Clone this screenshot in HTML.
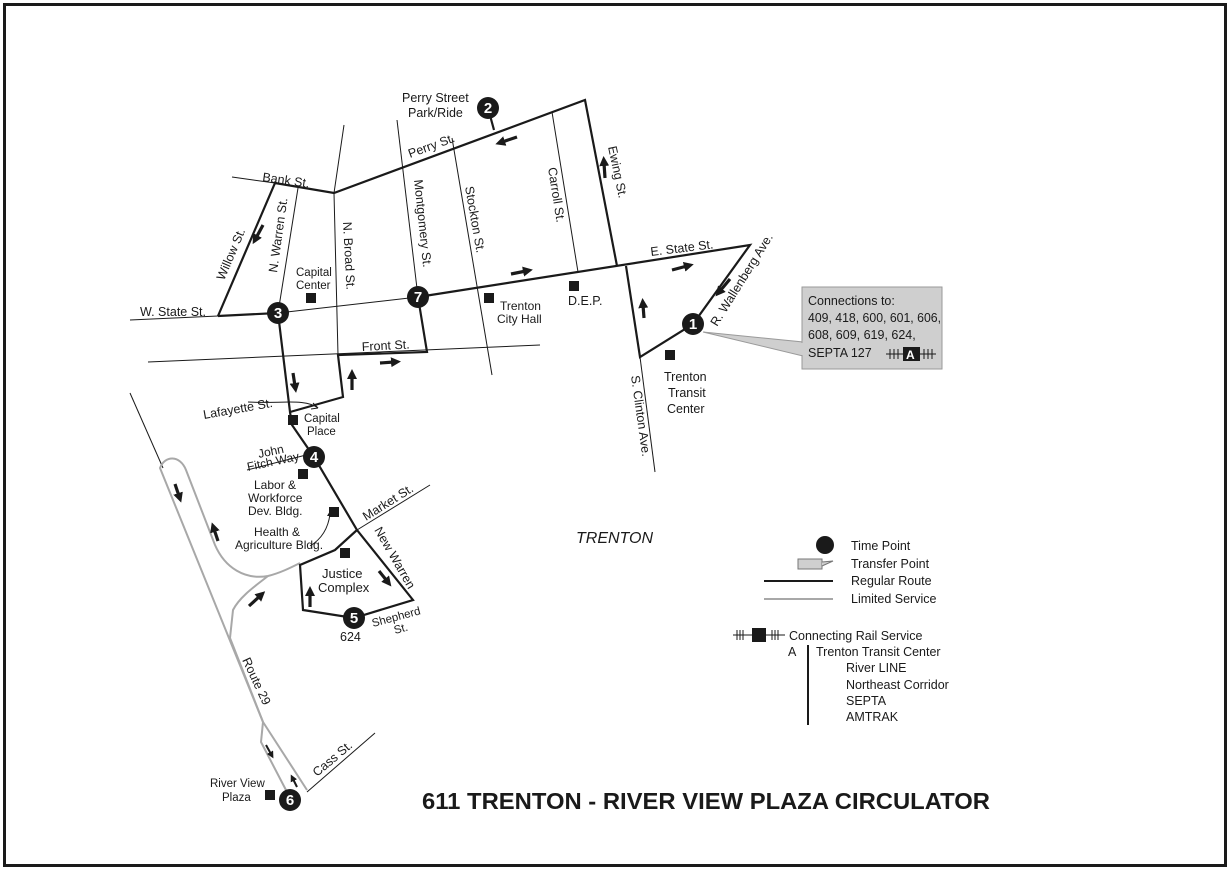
<!DOCTYPE html>
<html><head><meta charset="utf-8"><style>
html,body{margin:0;padding:0;background:#fff;}
svg{display:block;}
text{font-family:"Liberation Sans",Arial,sans-serif;fill:#1a1a1a;}
</style></head><body>
<svg width="1230" height="870" viewBox="0 0 1230 870" xmlns="http://www.w3.org/2000/svg">
<defs>
<marker id="ah" markerWidth="7" markerHeight="7" refX="2" refY="3.5" orient="auto" markerUnits="userSpaceOnUse"><path d="M0,0 L7,3.5 L0,7 Z" fill="#1a1a1a"/></marker>
<marker id="ah2" markerWidth="10" markerHeight="10" refX="3" refY="5" orient="auto" markerUnits="userSpaceOnUse"><path d="M0,0 L10,5 L0,10 Z" fill="#1a1a1a"/></marker>
</defs>
<rect x="4.5" y="4.5" width="1221" height="861" fill="#fff" stroke="#1a1a1a" stroke-width="3"/>

<g stroke="#1a1a1a" stroke-width="1" fill="none">
<line x1="232" y1="177" x2="275" y2="183"/>
<line x1="130" y1="320" x2="218" y2="316"/>
<polyline points="278,313 418,297"/>
<line x1="298" y1="188" x2="278" y2="313"/>
<polyline points="344,125 334,193 338,355"/>
<line x1="397" y1="120" x2="418" y2="297"/>
<line x1="148" y1="362" x2="540" y2="345"/>
<line x1="452" y1="138" x2="492" y2="375"/>
<line x1="552" y1="112" x2="578" y2="272"/>
<line x1="640" y1="357" x2="655" y2="472"/>
<line x1="357" y1="530" x2="430" y2="485"/>
<line x1="130" y1="393" x2="163" y2="468"/>
<line x1="307" y1="792" x2="375" y2="733"/>
<line x1="247" y1="470" x2="310" y2="454"/>
<path d="M248,402 C280,404 305,398 318,408"/>
</g>
<path d="M318,408 l-5,-5 M318,408 l-7,1" stroke="#1a1a1a" stroke-width="1"/>
<path d="M333,516 l-3,-5 l-3,5 Z" fill="#1a1a1a"/>
<path d="M330,514 C328,530 320,540 310,546" stroke="#1a1a1a" stroke-width="1" fill="none"/>

<g stroke="#a8a8a8" stroke-width="2" fill="none" stroke-linejoin="round">
<path d="M300,563 C290,568 280,573 268,576 C245,580 225,568 215,545 L186,470 C180,455 165,455 160,468 L263,722"/>
<path d="M268,576 C258,584 240,596 233,610 L230,638 L263,722"/>
<polyline points="263,722 261,742 287,792"/>
<polyline points="263,722 307,790"/>
</g>

<g stroke="#1a1a1a" stroke-width="2.2" fill="none" stroke-linejoin="miter">
<polyline points="218,316 275,183 334,193 585,100 617,266"/>
<line x1="218" y1="316" x2="278" y2="313"/>
<line x1="488" y1="108" x2="494" y2="130"/>
<polyline points="418,297 750,245 693,324 640,357 626,266"/>
<polyline points="278,313 290,412 343,397 338,355 427,352 418,297"/>
<polyline points="290,412 292,425 314,457 357,530 413,600 354,618 303,610 300,565 335,550 357,530"/>
</g>

<g stroke="#1a1a1a" stroke-width="3.2" fill="none">
<line x1="263" y1="225" x2="256" y2="238" marker-end="url(#ah2)"/>
<line x1="517" y1="137" x2="502" y2="142" marker-end="url(#ah2)"/>
<line x1="605" y1="178" x2="604" y2="163" marker-end="url(#ah2)"/>
<line x1="511" y1="274" x2="526" y2="271" marker-end="url(#ah2)"/>
<line x1="672" y1="270" x2="687" y2="266" marker-end="url(#ah2)"/>
<line x1="730" y1="279" x2="720" y2="291" marker-end="url(#ah2)"/>
<line x1="644" y1="318" x2="643" y2="305" marker-end="url(#ah2)"/>
<line x1="293" y1="373" x2="295" y2="386" marker-end="url(#ah2)"/>
<line x1="352" y1="390" x2="352" y2="376" marker-end="url(#ah2)"/>
<line x1="380" y1="363" x2="394" y2="362" marker-end="url(#ah2)"/>
<line x1="379" y1="571" x2="387" y2="581" marker-end="url(#ah2)"/>
<line x1="310" y1="607" x2="310" y2="593" marker-end="url(#ah2)"/>
<line x1="175" y1="484" x2="179" y2="496" marker-end="url(#ah2)"/>
<line x1="218" y1="541" x2="214" y2="529" marker-end="url(#ah2)"/>
<line x1="249" y1="606" x2="260" y2="596" marker-end="url(#ah2)"/>
</g>
<g stroke="#1a1a1a" stroke-width="2" fill="none">
<line x1="266" y1="745" x2="271" y2="754" marker-end="url(#ah)"/>
<line x1="297" y1="787" x2="293" y2="779" marker-end="url(#ah)"/>
</g>

<polygon points="703,332 803,342 803,356" fill="#cfcfcf" stroke="#9a9a9a" stroke-width="1"/>
<rect x="802" y="287" width="140" height="82" fill="#cfcfcf" stroke="#9a9a9a" stroke-width="1"/>
<line x1="802" y1="343" x2="802" y2="355" stroke="#cfcfcf" stroke-width="2"/>
<g font-size="12.5">
<text x="808" y="305">Connections to:</text>
<text x="808" y="322" textLength="133" lengthAdjust="spacingAndGlyphs">409, 418, 600, 601, 606,</text>
<text x="808" y="339">608, 609, 619, 624,</text>
<text x="808" y="357">SEPTA 127</text>
</g>
<g stroke="#1a1a1a" stroke-width="1">
<line x1="886" y1="354" x2="936" y2="354"/>
<line x1="890" y1="349" x2="890" y2="359"/><line x1="894" y1="349" x2="894" y2="359"/><line x1="898" y1="349" x2="898" y2="359"/>
<line x1="924" y1="349" x2="924" y2="359"/><line x1="928" y1="349" x2="928" y2="359"/><line x1="932" y1="349" x2="932" y2="359"/>
</g>
<rect x="903" y="347" width="17" height="14" fill="#1a1a1a"/>
<text x="906" y="359" font-size="12" font-weight="bold" style="fill:#fff">A</text>

<g fill="#1a1a1a">
<rect x="306" y="293" width="10" height="10"/>
<rect x="484" y="293" width="10" height="10"/>
<rect x="569" y="281" width="10" height="10"/>
<rect x="665" y="350" width="10" height="10"/>
<rect x="288" y="415" width="10" height="10"/>
<rect x="298" y="469" width="10" height="10"/>
<rect x="329" y="507" width="10" height="10"/>
<rect x="340" y="548" width="10" height="10"/>
<rect x="265" y="790" width="10" height="10"/>
</g>

<g font-size="15" font-weight="bold" text-anchor="middle">
<circle cx="693" cy="324" r="11" fill="#1a1a1a"/><text x="693" y="329" style="fill:#fff">1</text>
<circle cx="488" cy="108" r="11" fill="#1a1a1a"/><text x="488" y="113" style="fill:#fff">2</text>
<circle cx="278" cy="313" r="11" fill="#1a1a1a"/><text x="278" y="318" style="fill:#fff">3</text>
<circle cx="314" cy="457" r="11" fill="#1a1a1a"/><text x="314" y="462" style="fill:#fff">4</text>
<circle cx="354" cy="618" r="11" fill="#1a1a1a"/><text x="354" y="623" style="fill:#fff">5</text>
<circle cx="290" cy="800" r="11" fill="#1a1a1a"/><text x="290" y="805" style="fill:#fff">6</text>
<circle cx="418" cy="297" r="11" fill="#1a1a1a"/><text x="418" y="302" style="fill:#fff">7</text>
</g>

<g font-size="12.5">
<text x="402" y="102">Perry Street</text>
<text x="408" y="117">Park/Ride</text>
<text transform="translate(410,158) rotate(-20)">Perry St.</text>
<text transform="translate(262,181) rotate(8)">Bank St.</text>
<text transform="translate(224,281) rotate(-67)">Willow St.</text>
<text transform="translate(277,273) rotate(-82)">N. Warren St.</text>
<text x="296" y="276" font-size="11.5">Capital</text>
<text x="296" y="289" font-size="11.5">Center</text>
<text transform="translate(343,222) rotate(87)">N. Broad St.</text>
<text transform="translate(414,180) rotate(84)">Montgomery St.</text>
<text transform="translate(465,187) rotate(80)">Stockton St.</text>
<text transform="translate(548,168) rotate(81)">Carroll St.</text>
<text transform="translate(608,147) rotate(78)">Ewing St.</text>
<text transform="translate(651,256) rotate(-7)">E. State St.</text>
<text transform="translate(717,327) rotate(-58)">R. Wallenberg Ave.</text>
<text transform="translate(631,376) rotate(82)">S. Clinton Ave.</text>
<text x="664" y="381">Trenton</text>
<text x="668" y="397">Transit</text>
<text x="667" y="413">Center</text>
<text x="500" y="310" font-size="12">Trenton</text>
<text x="497" y="323" font-size="12">City Hall</text>
<text x="568" y="305">D.E.P.</text>
<text x="140" y="316">W. State St.</text>
<text transform="translate(362,351) rotate(-3)">Front St.</text>
<text transform="translate(204,419) rotate(-10)">Lafayette St.</text>
<text x="304" y="422" font-size="11.5">Capital</text>
<text x="307" y="435" font-size="11.5">Place</text>
<text transform="translate(259,458) rotate(-12)" font-size="12">John</text>
<text transform="translate(248,471) rotate(-12)" font-size="12">Fitch Way</text>
<text x="254" y="489" font-size="12">Labor &amp;</text>
<text x="248" y="502" font-size="12">Workforce</text>
<text x="248" y="515" font-size="12">Dev. Bldg.</text>
<text x="254" y="536" font-size="12">Health &amp;</text>
<text x="235" y="549" font-size="12">Agriculture Bldg.</text>
<text transform="translate(366,521) rotate(-32)">Market St.</text>
<text transform="translate(374,530) rotate(60)">New Warren</text>
<text x="322" y="578" font-size="13">Justice</text>
<text x="318" y="592" font-size="13">Complex</text>
<text transform="translate(373,627) rotate(-15)" font-size="11.5">Shepherd</text>
<text transform="translate(395,634) rotate(-15)" font-size="11.5">St.</text>
<text x="340" y="641">624</text>
<text transform="translate(242,660) rotate(65)">Route 29</text>
<text transform="translate(317,777) rotate(-40)">Cass St.</text>
<text x="210" y="787" font-size="11.5">River View</text>
<text x="222" y="801" font-size="11.5">Plaza</text>
<text x="576" y="543" font-size="16" font-style="italic">TRENTON</text>
</g>

<circle cx="825" cy="545" r="9" fill="#1a1a1a"/>
<g font-size="12.5">
<text x="851" y="550">Time Point</text>
<text x="851" y="568">Transfer Point</text>
<text x="851" y="585">Regular Route</text>
<text x="851" y="603">Limited Service</text>
<text x="789" y="640">Connecting Rail Service</text>
<text x="788" y="656">A</text>
<text x="816" y="656">Trenton Transit Center</text>
<text x="846" y="672">River LINE</text>
<text x="846" y="689">Northeast Corridor</text>
<text x="846" y="705">SEPTA</text>
<text x="846" y="721">AMTRAK</text>
</g>
<rect x="798" y="559" width="24" height="10" fill="#cfcfcf" stroke="#777" stroke-width="1"/>
<path d="M822,562 L833,561 L822,566" fill="#cfcfcf" stroke="#777" stroke-width="1"/>
<line x1="764" y1="581" x2="833" y2="581" stroke="#1a1a1a" stroke-width="2"/>
<line x1="764" y1="599" x2="833" y2="599" stroke="#a8a8a8" stroke-width="2"/>
<g stroke="#1a1a1a" stroke-width="1">
<line x1="733" y1="635" x2="785" y2="635"/>
<line x1="737" y1="630" x2="737" y2="640"/><line x1="740" y1="630" x2="740" y2="640"/><line x1="743" y1="630" x2="743" y2="640"/>
<line x1="772" y1="630" x2="772" y2="640"/><line x1="775" y1="630" x2="775" y2="640"/><line x1="778" y1="630" x2="778" y2="640"/>
</g>
<rect x="752" y="628" width="14" height="14" fill="#1a1a1a"/>
<line x1="808" y1="645" x2="808" y2="725" stroke="#1a1a1a" stroke-width="2"/>

<text x="422" y="809" font-size="23" font-weight="bold" textLength="568" lengthAdjust="spacingAndGlyphs">611 TRENTON - RIVER VIEW PLAZA CIRCULATOR</text>
</svg>
</body></html>
